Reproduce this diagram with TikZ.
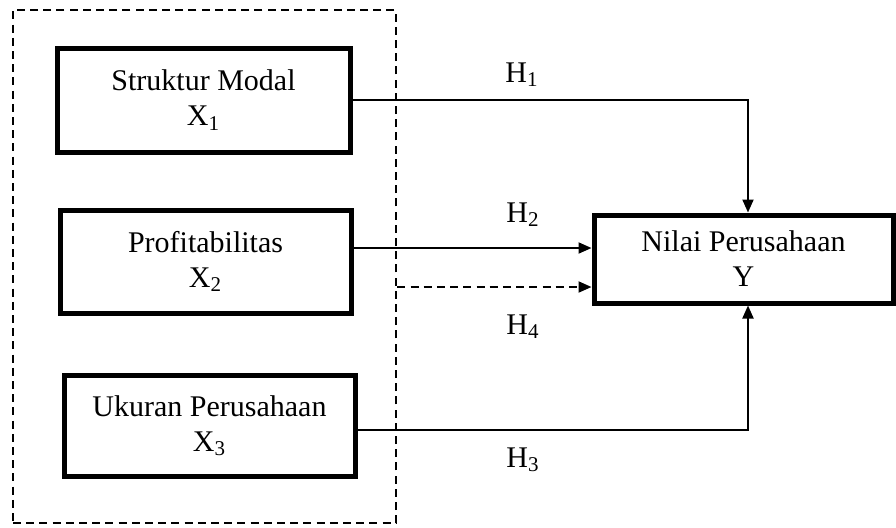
\documentclass[tikz,border=0pt]{standalone}
\usepackage{fontspec}
\setmainfont{Liberation Serif}
\usetikzlibrary{arrows.meta}

\begin{document}
\begin{tikzpicture}[x=0.5pt,y=-0.5pt,
  txt/.style={font=\fontsize{15}{17.5}\selectfont},
  var/.style={txt,draw,line width=2.5pt,inner sep=0pt,align=center},
  grp/.style={draw,line width=1.3pt,dash pattern=on 4pt off 2.6pt,inner sep=0pt},
  arr/.style={line width=1pt,-{Triangle[length=6.5pt,width=5.5pt]}},
  dasharr/.style={arr,dash pattern=on 4pt off 2.6pt}]
  \useasboundingbox (0,0) rectangle (896,527);
  \node[grp,minimum width=191.5pt,minimum height=256.5pt] (g) at (204.5,266.5) {};
  \node[var,minimum width=146.5pt,minimum height=52pt] (sm) at (203.5,100) {Struktur Modal\\X\textsubscript{1}};
  \node[var,minimum width=145.5pt,minimum height=51.5pt] (pr) at (205.5,261.5) {Profitabilitas\\X\textsubscript{2}};
  \node[var,minimum width=145.5pt,minimum height=50.5pt] (up) at (209.5,425.5) {Ukuran Perusahaan\\X\textsubscript{3}};
  \node[var,minimum width=149.5pt,minimum height=44pt] (ny) at (743.5,259) {Nilai Perusahaan\\Y};
  \node[txt] (h1) at (522,75) {H\textsubscript{1}};
  \node[txt] (h2) at (523,215) {H\textsubscript{2}};
  \node[txt] (h4) at (523,327) {H\textsubscript{4}};
  \node[txt] (h3) at (523,460) {H\textsubscript{3}};
  \coordinate (c1) at (748,100);
  \coordinate (c3) at (748,430);
  \draw[arr] (sm.east) -- (c1) -- (c1 |- ny.north);
  \draw[arr] (pr.east |- 0,248) -- (ny.west |- 0,248);
  \draw[dasharr] (g.east |- 0,287) -- (ny.west |- 0,287);
  \draw[arr] (up.east |- c3) -- (c3) -- (c3 |- ny.south);
\end{tikzpicture}
\end{document}
